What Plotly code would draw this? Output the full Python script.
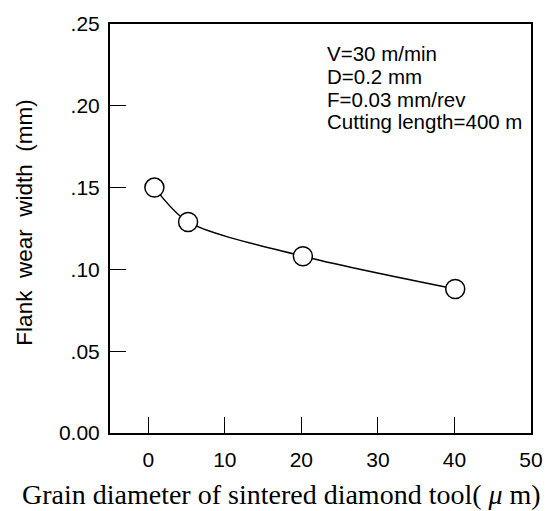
import plotly.graph_objects as go

grain_um = [0.8, 5.2, 20.2, 40.1]
wear_mm = [0.150, 0.129, 0.108, 0.088]

x_ticks = [0, 10, 20, 30, 40, 50]
y_ticks = [0.0, 0.05, 0.10, 0.15, 0.20, 0.25]
y_ticktext = ["0.00", ".05", ".10", ".15", ".20", ".25"]
cond_lines = ["V=30 m/min", "D=0.2 mm", "F=0.03 mm/rev", "Cutting length=400 m"]

W, H = 556, 511
L, R, T, B = 110, 25, 15, 78

fig = go.Figure()
fig.add_trace(go.Scatter(
    x=grain_um, y=wear_mm, mode="lines+markers",
    line=dict(color="black", width=1.5, shape="spline", smoothing=0.8),
    marker=dict(size=19, color="white", line=dict(color="black", width=1.5)),
    showlegend=False, hoverinfo="skip",
))

sans = "Liberation Sans, Arial, sans-serif"
axis_common = dict(
    showline=True, linecolor="black", linewidth=2, mirror=True,
    ticks="inside", ticklen=16, tickcolor="black", tickwidth=1,
    showgrid=False, zeroline=False,
    tickfont=dict(family=sans, size=21, color="black"),
)

fig.update_layout(
    width=W, height=H,
    margin=dict(l=L, r=R, t=T, b=B),
    paper_bgcolor="white", plot_bgcolor="white",
    xaxis=dict(range=[-5, 50], tickvals=x_ticks, ticktext=[str(v) for v in x_ticks],
               ticklabelstandoff=7, **axis_common),
    yaxis=dict(range=[0, 0.25], tickvals=y_ticks, ticktext=y_ticktext,
               ticklabelstandoff=4, **axis_common),
)

# condition text block
ph = H - T - B
ys_px = [45, 69, 92, 115]
for txt, ypx in zip(cond_lines, ys_px):
    fig.add_annotation(
        text=txt, xref="paper", yref="paper",
        x=(325 - L) / (W - L - R), y=(H - B - ypx) / ph,
        xanchor="left", yanchor="middle", showarrow=False,
        font=dict(family=sans, size=20.5, color="black"),
    )

# axis titles
sp = "\u00a0\u00a0"
fig.add_annotation(
    text=f"Flank{sp}wear{sp}width{sp}(mm)",
    xref="paper", yref="paper",
    x=(25 - L) / (W - L - R), y=(H - B - 218) / ph,
    xanchor="center", yanchor="middle", textangle=-90, showarrow=False,
    font=dict(family=sans, size=22.5, color="black"),
)
fig.add_annotation(
    text="Grain diameter of sintered diamond tool(\u00a0<i>μ</i>\u00a0m)",
    xref="paper", yref="paper",
    x=(281 - L) / (W - L - R), y=(H - B - 496) / ph,
    xanchor="center", yanchor="middle", showarrow=False,
    font=dict(family="Liberation Serif, Times New Roman, serif", size=28, color="black"),
)

fig.write_html("out.html")
